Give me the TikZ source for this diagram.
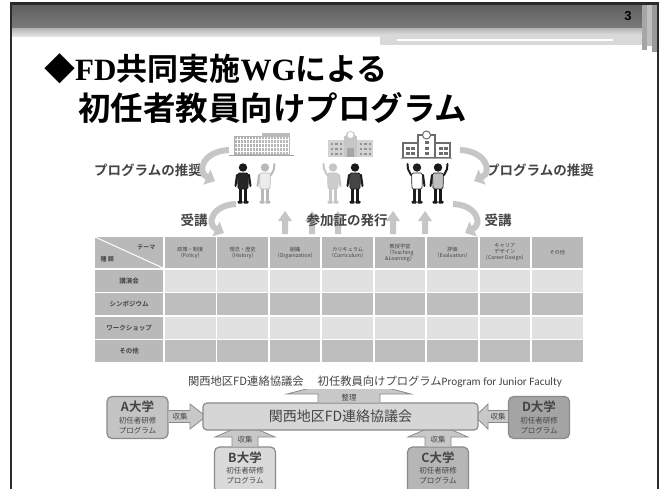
\documentclass[tikz,border=0pt]{standalone}
\usepackage{fontspec}
\setmainfont{Noto Sans CJK JP}[BoldFont={Noto Sans CJK JP Bold}]
\newfontfamily\titlelatin{Liberation Serif}[BoldFont={Liberation Serif Bold}]
\newfontfamily\calib{Carlito}
\newfontfamily\numfont{Liberation Sans}[BoldFont={Liberation Sans Bold}]
\usetikzlibrary{arrows.meta,calc}

\definecolor{frame}{HTML}{2A2A2A}
\definecolor{hdA}{HTML}{5E5E5E}
\definecolor{hdB}{HTML}{7A7A7A}
\definecolor{txt}{HTML}{444444}
\definecolor{arcgray}{HTML}{C6C6C6}
\definecolor{cellhead}{HTML}{B9B9B9}
\definecolor{celllight}{HTML}{E1E1E1}
\definecolor{celldark}{HTML}{BEBEBE}
\definecolor{boxline}{HTML}{8A8A8A}
\definecolor{hubfill}{HTML}{D6D6D6}
\definecolor{afill}{HTML}{C4C4C4}
\definecolor{bfill}{HTML}{DADADA}
\definecolor{cfill}{HTML}{B6B6B6}
\definecolor{dfill}{HTML}{A4A4A4}
\definecolor{blkfill}{HTML}{C8C8C8}

\tikzset{
  bendarrow/.style={draw=arcgray, line width=6pt, -{Triangle[length=9pt,width=16pt]}},
  uparrow/.style={fill=arcgray},
  cell/.style={inner sep=0pt, minimum height=22pt, text=txt, font=\fontsize{6.5}{7}\selectfont\bfseries},
  hcell/.style={inner sep=0pt, fill=cellhead, minimum width=50.6pt, minimum height=31pt,
    align=center, text=txt, font=\fontsize{5.2}{6}\selectfont},
  unibox/.style={draw=boxline, line width=1.2pt, rounded corners=5pt, inner sep=0pt,
    minimum width=61pt, minimum height=42pt, align=center, text=txt},
  hub/.style={draw=boxline, line width=1.2pt, rounded corners=4pt, fill=hubfill, inner sep=0pt,
    minimum width=275pt, minimum height=27pt, text=txt, font=\fontsize{14}{16}\selectfont},
  blk/.style={draw=boxline, line width=0.8pt, fill=blkfill, line join=miter},
  blklabel/.style={text=txt, font=\fontsize{7.5}{8}\selectfont, inner sep=0pt},
  captionstyle/.style={font=\fontsize{11.3}{12}\selectfont, text=txt, fill=white, inner sep=1.5pt},
  % standing figure: #1 = limbs and head, #2 = clothing
  pics/person/.style 2 args={code={
    \fill[#1] (0,-35.5) circle (4.2);
    \fill[#2, draw=#1, line width=0.7pt, rounded corners=1.5pt]
      (-5.5,-30) -- (5.5,-30) -- (5,-14) -- (-5,-14) -- cycle;
    \fill[#1] (-3.8,-14) rectangle (-0.8,-1.5);
    \fill[#1] (0.8,-14) rectangle (3.8,-1.5);
    \fill[#1, rounded corners=0.8pt] (-5.5,-2.2) rectangle (-0.4,0.5);
    \fill[#1, rounded corners=0.8pt] (0.4,-2.2) rectangle (5.5,0.5);
    \draw[#1, line width=2pt, line cap=round] (-6,-28) -- (-7.5,-17);
    \draw[#1, line width=2pt, line cap=round] (6,-28) -- (7.5,-17);
  }},
  % same figure with one hand raised
  pics/waver/.style 2 args={code={
    \fill[#1] (0,-35.5) circle (4.2);
    \fill[#2, draw=#1, line width=0.7pt, rounded corners=1.5pt]
      (-5.5,-30) -- (5.5,-30) -- (5,-14) -- (-5,-14) -- cycle;
    \fill[#1] (-3.8,-14) rectangle (-0.8,-1.5);
    \fill[#1] (0.8,-14) rectangle (3.8,-1.5);
    \fill[#1, rounded corners=0.8pt] (-5.5,-2.2) rectangle (-0.4,0.5);
    \fill[#1, rounded corners=0.8pt] (0.4,-2.2) rectangle (5.5,0.5);
    \draw[#1, line width=2pt, line cap=round] (-6,-28) -- (-9,-34) -- (-9.5,-39);
    \draw[#1, line width=2pt, line cap=round] (6,-28) -- (7.5,-17);
  }}
}

\begin{document}
\begin{tikzpicture}[x=1pt,y=-1pt]
\useasboundingbox (0,0) rectangle (666,488);
\fill[white] (0,0) rectangle (666,488);

% ---------- slide header ----------
\shade[top color=hdA, bottom color=hdB] (11,3.5) rectangle (658,28);
\shade[top color=gray!60, bottom color=gray!22] (11,28) rectangle (642,36);
\fill[gray!30] (380,34) rectangle (642,45);
\draw[white, line width=1.6pt] (397,40) -- (613,40);
\fill[gray!70] (642,3.5) rectangle (647,50);
\fill[gray!50] (647,3.5) rectangle (652,46);
\fill[gray!80] (652,3.5) rectangle (658,52);
\node[font=\numfont\bfseries\fontsize{13}{14}\selectfont, text=black] (pagenum) at (628,16) {3};
\draw[frame, line width=2.6pt] (11,490) -- (11,3.5) -- (658,3.5) -- (658,490);

% ---------- title ----------
\node[anchor=west, inner sep=0pt, font=\fontsize{31}{34}\selectfont\bfseries] (title1) at (44,69)
  {◆{\titlelatin\bfseries FD}共同実施{\titlelatin\bfseries WG}による};
\node[anchor=west, inner sep=0pt, font=\fontsize{32.5}{34}\selectfont\bfseries] (title2) at (78,108)
  {初任者教員向けプログラム};

% ---------- buildings ----------
% office block
\fill[gray!60] (234,136) rectangle (262,155);
\fill[gray!55] (262,133) rectangle (290,155);
\foreach \x in {237,240,...,288} \draw[white, line width=0.6pt] (\x,137) -- (\x,154);
\foreach \y in {139,143,...,153} \draw[white, line width=0.5pt] (235,\y) -- (289,\y);
\draw[gray!70, line width=1pt] (229,155.5) -- (294,155.5);
% school with tower
\fill[gray!35] (328,140) rectangle (344,157);
\fill[gray!35] (357,140) rectangle (373,157);
\fill[gray!45] (344,136) rectangle (357,157);
\fill[gray!45] (350.5,136) circle (5);
\fill[white] (350.5,135) circle (3);
\fill[gray!70] (347,148) rectangle (354,157);
\foreach \x in {330.5,335,339.5,359.5,364,368.5}
  \foreach \y in {143,148,153} \fill[gray!85] (\x,\y) rectangle ++(2.8,2.2);
% school with clock
\draw[gray!85!black, line width=1.2pt, fill=white] (403,143) rectangle (450,158);
\draw[gray!85!black, line width=1.2pt, fill=white] (418,135) rectangle (435,158);
\draw[gray!85!black, line width=1pt, fill=white] (426.5,135) circle (4);
\foreach \x in {406,411,439,444}
  \foreach \y in {147,152} \fill[gray!85!black] (\x,\y) rectangle ++(3.5,3);
\foreach \y in {141,147,152} \fill[gray!85!black] (425,\y) rectangle ++(3.5,3);
\draw[gray!70, line width=1pt] (401,158.5) -- (452,158.5);

% ---------- people ----------
\path (243,203) pic {person={gray!20!black}{gray!30!black}};
\path (265,203) pic[xscale=-1] {waver={gray!55}{gray!15}};
\path (333,203) pic {waver={gray!45}{gray!40}};
\path (355,203) pic {person={gray!20!black}{gray!55!black}};
\path (417,203) pic {waver={gray!25!black}{white}};
\path (438,203) pic[xscale=-1] {waver={gray!20!black}{gray!50}};

% ---------- recommendation / attendance arcs ----------
\node[font=\fontsize{13.5}{14}\selectfont\bfseries, text=txt] (recL) at (148,170) {プログラムの推奨};
\node[font=\fontsize{13.5}{14}\selectfont\bfseries, text=txt] (recR) at (540,170) {プログラムの推奨};
\node[font=\fontsize{13.5}{14}\selectfont\bfseries, text=txt] (takeL) at (194,220) {受講};
\node[font=\fontsize{13.5}{14}\selectfont\bfseries, text=txt] (takeR) at (498,220) {受講};
\draw[bendarrow] (229,150) .. controls (203,151) and (196,172) .. (215,181);
\draw[bendarrow] (460,150) .. controls (486,151) and (493,172) .. (474,181);
\draw[bendarrow] (236,204) .. controls (212,205) and (206,224) .. (224,233);
\draw[bendarrow] (453,204) .. controls (477,205) and (483,224) .. (465,233);

% certificate arrows
\foreach \c in {285,312,338,393,425}
  \fill[uparrow] (\c-3,234) -- (\c-3,221) -- (\c-7,221) -- (\c,211) -- (\c+7,221) -- (\c+3,221) -- (\c+3,234) -- cycle;
\node[font=\fontsize{13.5}{14}\selectfont\bfseries, text=txt, inner sep=1pt] (cert) at (347,220) {参加証の発行};

% ---------- program table ----------
\fill[cellhead] (95,237) rectangle (163,268);
\draw[white, line width=1pt] (95,237) -- (163,268);
\node[font=\fontsize{6}{7}\selectfont\bfseries, text=txt, anchor=east] (theme) at (159,247) {テーマ};
\node[font=\fontsize{6}{7}\selectfont\bfseries, text=txt, anchor=west] (kind) at (97,259) {種\ 類};
\foreach \h [count=\i from 0] in {
  {政策・制度\\（Policy）},
  {理念・歴史\\（History）},
  {組織\\（Organization）},
  {カリキュラム\\（Curriculum）},
  {教授学習\\（Teaching\\\&Learning）},
  {評価\\（Evaluation）},
  {キャリア\\デザイン\\（Career Design）},
  {その他}}
  \node[hcell] (head\i) at ({165+52.43*\i+25.3},252.5) {\h};
\foreach \r [count=\j from 0] in {講演会,シンポジウム,ワークショップ,その他} {
  \pgfmathtruncatemacro{\odd}{mod(\j,2)}
  \node[cell, fill=cellhead, minimum width=68pt] (row\j) at (129,{270+23.3*\j+11}) {\r};
  \foreach \i in {0,...,7} {
    \ifnum\odd=0 \def\cf{celllight}\else\def\cf{celldark}\fi
    \node[cell, fill=\cf, minimum width=50.6pt] (c\j-\i) at ({165+52.43*\i+25.3},{270+23.3*\j+11}) {};
  }
}

% ---------- liaison council ----------
% university boxes
\node[unibox, fill=afill] (uA) at (137.5,417.5) {};
\node[unibox, fill=dfill] (uD) at (539,417.5) {};
\node[unibox, fill=bfill, minimum height=46pt] (uB) at (245,470) {};
\node[unibox, fill=cfill, minimum height=46pt] (uC) at (438,470) {};

% collection arrows into the council
\coordinate (hubL) at (206,416.5);
\coordinate (hubR) at (475,416.5);
\draw[blk] (uA.east |- 0,410.5) -- (190,410.5) -- (190,404) -- (hubL) -- (190,429) -- (190,422.5) -- (uA.east |- 0,422.5);
\draw[blk] (uD.west |- 0,410.5) -- (488,410.5) -- (488,404) -- (hubR) -- (488,429) -- (488,422.5) -- (uD.west |- 0,422.5);
\draw[blk] (uB.north -| 232,0) -- (232,437) -- (215,437) -- (245,424) -- (275,437) -- (258,437) -- (uB.north -| 258,0);
\draw[blk] (uC.north -| 425,0) -- (425,437) -- (408,437) -- (438,424) -- (468,437) -- (451,437) -- (uC.north -| 451,0);

% council box
\node[hub] (hub) at (340.5,416.5) {関西地区FD連絡協議会};

% arrange arrow out of the council, its tip hidden under the caption
\draw[blk] (hub.north -| 318,0) -- (318,394) -- (287,394) -- (349,378) -- (411,394) -- (380,394) -- (hub.north -| 380,0);
\node[captionstyle] (caption) at (375,382)
  {関西地区FD連絡協議会\hspace{14pt}初任教員向けプログラム{\calib Program for Junior Faculty}};

% labels on arrows
\node[blklabel] (lblA) at (180,416.5) {収集};
\node[blklabel] (lblD) at (498,416.5) {収集};
\node[blklabel] (lblB) at (245,440) {収集};
\node[blklabel] (lblC) at (438,440) {収集};
\node[blklabel] (lblS) at (349,398) {整理};

% university box texts
\foreach \n/\l in {uA/A,uD/D,uB/B,uC/C} {
  \node[text=txt, font=\fontsize{12.5}{13}\selectfont\bfseries, inner sep=0pt] at ($(\n.north)+(0,11)$) {\l 大学};
  \node[text=txt, font=\fontsize{7.5}{8}\selectfont, inner sep=0pt] at ($(\n.north)+(0,24.5)$) {初任者研修};
  \node[text=txt, font=\fontsize{7.5}{8}\selectfont, inner sep=0pt] at ($(\n.north)+(0,34.5)$) {プログラム};
}
\end{tikzpicture}
\end{document}
